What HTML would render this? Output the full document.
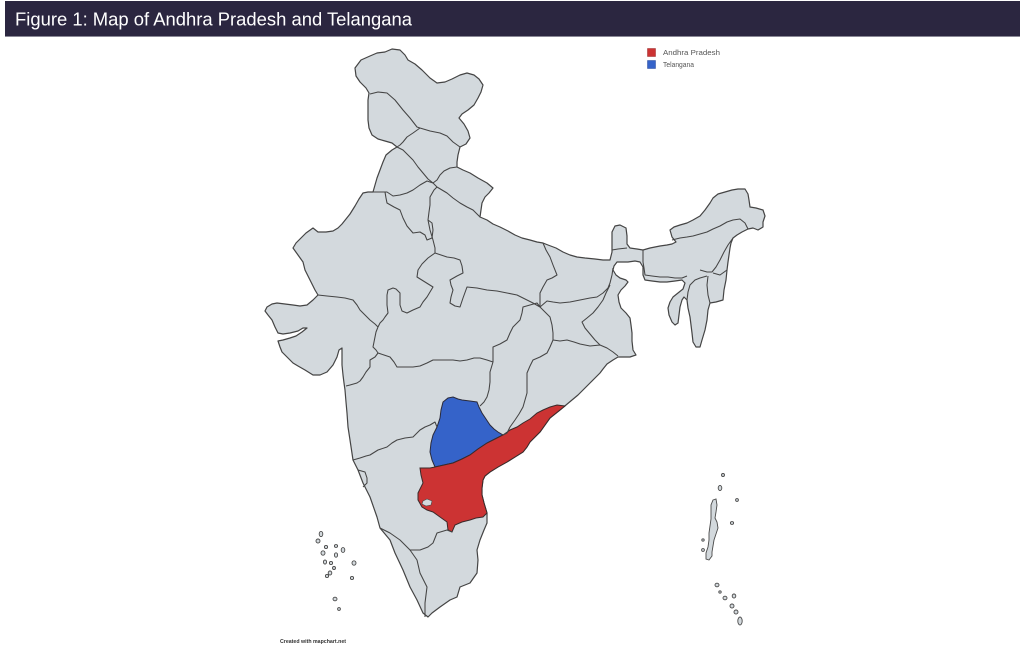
<!DOCTYPE html>
<html>
<head>
<meta charset="utf-8">
<style>
  html,body{margin:0;padding:0;background:#ffffff;}
  body{width:1024px;height:658px;overflow:hidden;}
  svg{display:block;}
</style>
</head>
<body>
<svg width="1024" height="658" viewBox="0 0 1024 658" xmlns="http://www.w3.org/2000/svg">
  <rect x="0" y="0" width="1024" height="658" fill="#ffffff"/>
  <!-- Title bar -->
  <rect x="5" y="1" width="1015" height="35" fill="#2b2640"/>
  <rect x="5" y="36" width="1015" height="1" fill="#8a8896"/>
  <text x="15" y="25.5" font-family="Liberation Sans, Arial, sans-serif" font-size="18" fill="#ffffff" textLength="397" lengthAdjust="spacingAndGlyphs">Figure 1: Map of Andhra Pradesh and Telangana</text>

  <!-- Mainland -->
  <g stroke="#444444" stroke-width="1.2" stroke-linejoin="round" fill="#d3d9dd">
    <path d="M355,68 L361,60 370,56 377,53 385,52 392,49 400,50 405,55 408,60 415,64 422,70 430,78 437,83 445,82 452,79 460,75 467,73 474,75 479,79 483,85 481,92 478,98 474,105 468,110 462,114 459,118 464,124 468,131 470,138 466,144 460,147
    458,155 457,162 457,167 463,170 470,173 478,178 487,183 493,188 489,193 485,197 482,203 481,210 480,217
    487,220 493,224 500,227 508,231 515,235 522,238 530,240 537,242 543,243 548,245
    556,248 563,252 570,255 577,257 585,258 595,259 603,260 610,260
    612,252 612,240 612,232 615,226 620,225 626,228 627,236 627,244 630,248 637,249 643,250
    650,248 660,246 667,245 672,244 676,242
    672,237 670,230 674,227 680,225 687,223 693,220 700,216 705,210 710,203 713,198 718,194 725,192 732,190 738,189 745,189 748,194 749,200 750,207 756,208 763,210 765,216 763,222 763,227 758,230 753,228 748,229 742,232 737,235 733,238 731,243 730,248
    729,255 728,262 727,270 726,280 724,290 723,300 716,302 710,303 708,310 707,320 705,330 702,340 700,347 696,347 693,342 692,333 691,325 690,317 688,308 687,300 684,297 682,300 680,307 679,315 678,323 675,325 672,322 669,315 668,308 670,302 673,297 678,293 683,289 685,283 682,280 675,281 667,282 660,282 652,281 645,280 643,275 643,267 640,262 635,261 628,262 620,262 617,262
    614,266 613,270 616,275 620,278 626,280 628,282 625,286 621,290 618,295 619,302 621,308 626,313 630,318 631,325 632,333 632,341 633,350 636,355 630,357 624,357 618,357 613,360 607,364 603,369 600,373 595,378 590,383 584,389 578,395 572,400 566,405
    560,410 555,414 550,418 545,425 540,432 535,437 530,442 527,447 523,452 515,457 507,462 498,467 490,472 485,476 483,480 482,488 482,495 484,503 487,513 487,523 484,530 480,540 477,550 478,560 477,573 470,583 460,587 457,597 450,600 440,607 432,613 428,617 423,613 417,600 410,587 403,570 395,553 390,540 380,528 377,517 370,497 363,483 358,470 353,460 350,440 348,427 347,413 346,402 345,390 344,383
    343,375 342,365 342,355 342,348 339,350 337,357 333,365 327,372 320,375 313,375 305,370 298,366 293,363 287,357 282,352 280,347 278,341 283,340 290,338 296,336 302,332 307,328 303,328 298,331 290,333 283,334 278,333 275,327 272,320 268,315 265,311 267,307 272,304 277,303 285,304 293,305 300,306 307,305 313,300 318,295
    315,290 312,284 309,278 305,270 303,262 298,255 293,248 296,243 300,239 306,233 313,228 318,232 326,232 333,231 338,228 342,224 346,219 350,214 355,206 359,199 363,193 368,192 373,192
    375,185 377,178 380,170 383,162 386,155 392,150 397,147
    392,143 385,141 378,139 372,135 369,128 368,120 368,110 368,100 369,93 366,88 360,82 356,76 Z"/>
  </g>

  <!-- Telangana -->
  <path d="M453,397 L458,399 462,400 470,401 477,402 479,407 482,413 486,419 490,425 494,429 498,432 503,435 495,439 487,443 478,449 470,455 462,459 453,463 444,465 435,467 432,460 430,452 431,443 433,435 437,427 440,418 441,410 443,402 448,398 Z" fill="#3563c9" stroke="#2a2a3a" stroke-width="1"/>
  <!-- Andhra Pradesh -->
  <path d="M565,406 L560,410 555,414 550,418 545,425 540,432 535,437 530,442 527,447 523,452 515,457 507,462 498,467 490,472 485,476 483,480 482,488 482,495 484,503 487,513 483,517 476,518 470,520 462,522 455,525 452,532 448,530 447,522 440,517 433,512 427,510 422,507 418,500 418,493 423,483 421,475 420,468 430,468 435,467 444,465 453,463 462,459 470,455 478,449 487,443 495,439 503,435 510,430 517,427 523,423 530,419 537,413 543,410 550,407 557,405 Z" fill="#cc3333" stroke="#3a2a2a" stroke-width="1"/>
  <path d="M423,501 L427,499 432,501 431,505 426,506 422,504 Z" fill="#d3d9dd" stroke="#4a4a4a" stroke-width="0.6"/>

  <!-- Internal borders -->
  <g fill="none" stroke="#444444" stroke-width="1.05" stroke-linejoin="round">
    <polyline points="370,94 378,92 387,93 395,100 403,110 410,118 417,127 420,128"/>
    <polyline points="420,128 413,133 407,137 403,142 400,145 397,147"/>
    <polyline points="420,128 430,131 440,133 447,136 453,142 460,147"/>
    <polyline points="397,147 403,150 408,155 413,160 418,167 423,173 428,179 433,183"/>
    <polyline points="457,167 450,168 444,171 440,175 437,180 433,183"/>
    <polyline points="373,192 380,192 387,192 393,196 400,195 407,193 413,190 420,185 427,181 433,183 437,187"/>
    <polyline points="385,192 386,198 387,203 394,207 400,210 403,218 407,226 413,233 420,232 425,235 427,240 432,238 433,230 432,223 428,220 429,212 430,205 430,197 434,190 437,187"/>
    <polyline points="437,187 442,190 447,193 453,198 460,203 467,207 473,210 477,214 480,217"/>
    <polyline points="428,220 430,230 433,240 435,248 435,253 441,255 447,257 454,258 460,260 462,266 463,273 457,276 450,280 451,285 453,290 451,297 450,303 455,306 460,307 463,298 467,287 477,288 487,290 497,291 507,293 517,295 527,300 533,303 540,307"/>
    <polyline points="435,253 428,258 422,264 418,270 417,277 425,282 433,287 430,292 427,297 423,302 420,307 413,310 407,313 402,311 400,305 400,298 400,293 396,289 393,288 388,290 387,295 387,305 388,313 385,317 383,320 380,323 378,327"/>
    <polyline points="318,295 327,296 337,297 345,298 353,300 357,305 360,310 365,315 370,320 375,324 378,327"/>
    <polyline points="378,327 376,332 375,337 374,342 373,347 376,350 378,353 375,357 370,360 370,364 370,367 366,372 363,377 360,381 357,383 350,385 346,386"/>
    <polyline points="378,353 384,355 390,357 394,362 397,367 405,367 413,367 420,366 427,363 433,360 440,360 447,360 453,360 460,361 467,360 474,358 480,358 487,360 493,362"/>
    <polyline points="493,362 493,355 493,347 500,344 507,340 510,333 513,327 517,323 520,320 522,313 523,307 530,305 537,303 540,307"/>
    <polyline points="493,362 490,372 490,382 489,390 487,397 484,402 480,406"/>
    <polyline points="540,307 545,312 550,317 552,325 553,333 553,340 550,347 547,353 540,357 533,360 530,366 527,373 527,383 527,393 525,400 523,407 519,414 515,420 510,427 507,433 503,435"/>
    <polyline points="353,460 360,458 366,456 370,455 378,450 387,447 392,443 397,440 405,438 413,437 417,433 420,430 425,427 430,425 435,422 437,427"/>
    <polyline points="358,470 365,472 367,478 367,483 363,487"/>
    <polyline points="380,528 390,533 400,540 410,550 420,550 428,547 433,543 437,533 447,530 452,532"/>
    <polyline points="410,550 417,560 420,573 427,587 425,603 425,617"/>
    <polyline points="543,243 546,250 550,257 553,265 557,275 552,278 547,280 543,287 540,293 540,300 540,307"/>
    <polyline points="540,307 547,301 553,302 560,303 570,302 580,300 590,298 597,297 603,293 608,288 610,283 612,275 613,268"/>
    <polyline points="553,340 560,341 567,340 574,342 580,344 590,346 600,345 607,348 613,352 618,356"/>
    <polyline points="610,285 606,293 603,300 598,307 593,313 587,318 582,322 585,328 590,334 595,340 600,345"/>
    <polyline points="612,250 618,249 627,248"/>
    <polyline points="643,250 643,256 643,262"/>
    <polyline points="672,240 680,238 687,237 693,236 700,234 707,232 713,229 720,226 727,222 733,220 740,219 745,223 748,229"/>
    <polyline points="643,262 644,268 645,275 652,276 660,277 668,277 675,278 682,278 687,276"/>
    <polyline points="733,238 728,245 724,252 720,260 716,267 712,272 707,272 700,270"/>
    <polyline points="727,270 720,275 713,273"/>
    <polyline points="710,303 708,295 707,285 708,276"/>
    <polyline points="687,300 688,292 690,285 695,280 700,278 707,276"/>
  </g>

  <!-- Lakshadweep -->
  <g fill="#d3d9dd" stroke="#4a4a4a" stroke-width="0.9">
    <ellipse cx="321" cy="534" rx="1.8" ry="2.6"/>
    <ellipse cx="318" cy="541" rx="2" ry="2"/>
    <ellipse cx="326" cy="547" rx="1.6" ry="1.6"/>
    <ellipse cx="336" cy="546" rx="1.6" ry="1.4"/>
    <ellipse cx="343" cy="550" rx="1.8" ry="2.4"/>
    <ellipse cx="323" cy="553" rx="2" ry="2.2"/>
    <ellipse cx="336" cy="555" rx="1.6" ry="2.2"/>
    <ellipse cx="325" cy="562" rx="1.6" ry="2"/>
    <ellipse cx="331" cy="563" rx="1.6" ry="1.6"/>
    <ellipse cx="334" cy="568" rx="1.5" ry="1.5"/>
    <ellipse cx="330" cy="573" rx="1.8" ry="2"/>
    <ellipse cx="327" cy="576" rx="1.6" ry="1.6"/>
    <ellipse cx="354" cy="563" rx="2" ry="2.2"/>
    <ellipse cx="352" cy="578" rx="1.6" ry="1.6"/>
    <ellipse cx="335" cy="599" rx="2" ry="1.8"/>
    <ellipse cx="339" cy="609" rx="1.4" ry="1.4"/>
  </g>

  <!-- Andaman & Nicobar -->
  <g fill="#d3d9dd" stroke="#4a4a4a" stroke-width="0.9">
    <ellipse cx="723" cy="475" rx="1.5" ry="1.5"/>
    <ellipse cx="720" cy="488" rx="1.8" ry="2.5"/>
    <ellipse cx="737" cy="500" rx="1.4" ry="1.4"/>
    <ellipse cx="732" cy="523" rx="1.6" ry="1.4"/>
    <ellipse cx="703" cy="540" rx="1.2" ry="1.2"/>
    <ellipse cx="703" cy="550" rx="1.4" ry="1.4"/>
    <path d="M713,500 L716,499 717,505 716,512 715,518 717,522 718,528 716,534 714,540 713,546 712,552 712,556 709,560 706,559 706,553 708,547 709,540 709,533 710,526 711,519 711,512 711,505 Z"/>
    <ellipse cx="717" cy="585" rx="2" ry="1.8"/>
    <ellipse cx="720" cy="592" rx="1.2" ry="1.2"/>
    <ellipse cx="725" cy="598" rx="2" ry="1.8"/>
    <ellipse cx="734" cy="596" rx="1.8" ry="2"/>
    <ellipse cx="732" cy="606" rx="2" ry="2"/>
    <ellipse cx="736" cy="612" rx="2" ry="2"/>
    <ellipse cx="740" cy="621" rx="2.2" ry="4"/>
  </g>

  <!-- Legend -->
  <rect x="647.5" y="48.5" width="8" height="8" fill="#cc3333" stroke="#9a2a2a" stroke-width="0.5"/>
  <rect x="647.5" y="60.5" width="8" height="8" fill="#3563c9" stroke="#2a4a9a" stroke-width="0.5"/>
  <text x="663" y="55" font-family="Liberation Sans, Arial, sans-serif" font-size="7.5" fill="#555555" textLength="57" lengthAdjust="spacingAndGlyphs">Andhra Pradesh</text>
  <text x="663" y="67" font-family="Liberation Sans, Arial, sans-serif" font-size="7.5" fill="#555555" textLength="31" lengthAdjust="spacingAndGlyphs">Telangana</text>

  <!-- Credit -->
  <text x="280" y="643" font-family="Liberation Sans, Arial, sans-serif" font-size="5.5" font-weight="bold" fill="#333333" textLength="66" lengthAdjust="spacingAndGlyphs">Created with mapchart.net</text>
</svg>
</body>
</html>
